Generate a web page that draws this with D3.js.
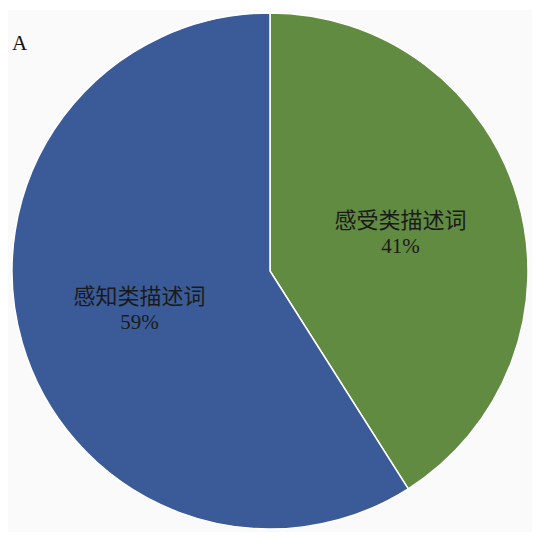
<!DOCTYPE html>
<html lang="zh">
<head>
    <meta charset="UTF-8">
    <title>Pie A</title>
    <script src="https://d3js.org/d3.v7.min.js"></script>
    <style>
        body {
            margin: 0;
            background: #fff;
            font-family: "Liberation Serif", "Noto Sans CJK SC", serif;
        }
        .slice-label {
            fill: #1a1a1a;
            text-anchor: middle;
        }
    </style>
</head>
<body>
<svg id="chart"></svg>
<script>
    // Данные диаграммы
    const categories = ["感受类描述词", "感知类描述词"];
    const shares = [41, 59];
    const colors = ["#618b41", "#3a5a98"];
    const panelLabel = "A";

    const width = 546;
    const height = 541;
    const center = { x: 270, y: 271 };
    const radius = 258;

    const svg = d3.select("#chart")
        .attr("width", width)
        .attr("height", height);

    // Светло-серая подложка
    svg.append("rect")
        .attr("x", 8)
        .attr("y", 10)
        .attr("width", 524)
        .attr("height", 522)
        .attr("fill", "#fafafa");

    svg.append("text")
        .attr("x", 12)
        .attr("y", 50)
        .attr("font-size", 21)
        .attr("fill", "#111")
        .text(panelLabel);

    const pie = d3.pie()
        .sort(null)
        .value(d => d.value);

    const data = pie(categories.map((c, i) => ({ name: c, value: shares[i] })));

    const arc = d3.arc().innerRadius(0).outerRadius(radius);
    const labelArc = d3.arc().innerRadius(136).outerRadius(136);

    const g = svg.append("g")
        .attr("transform", `translate(${center.x},${center.y})`);

    g.selectAll("path")
        .data(data)
        .join("path")
        .attr("d", arc)
        .attr("fill", (d, i) => colors[i])
        .attr("stroke", "#ffffff")
        .attr("stroke-width", 1.5);

    const labels = g.selectAll("text")
        .data(data)
        .join("text")
        .attr("class", "slice-label")
        .attr("transform", d => `translate(${labelArc.centroid(d)})`);

    labels.append("tspan")
        .attr("x", 0)
        .attr("dy", -5)
        .attr("font-size", 22)
        .text(d => d.data.name);

    labels.append("tspan")
        .attr("x", 0)
        .attr("dy", 25)
        .attr("font-size", 21)
        .text(d => d.data.value + "%");
</script>
</body>
</html>
